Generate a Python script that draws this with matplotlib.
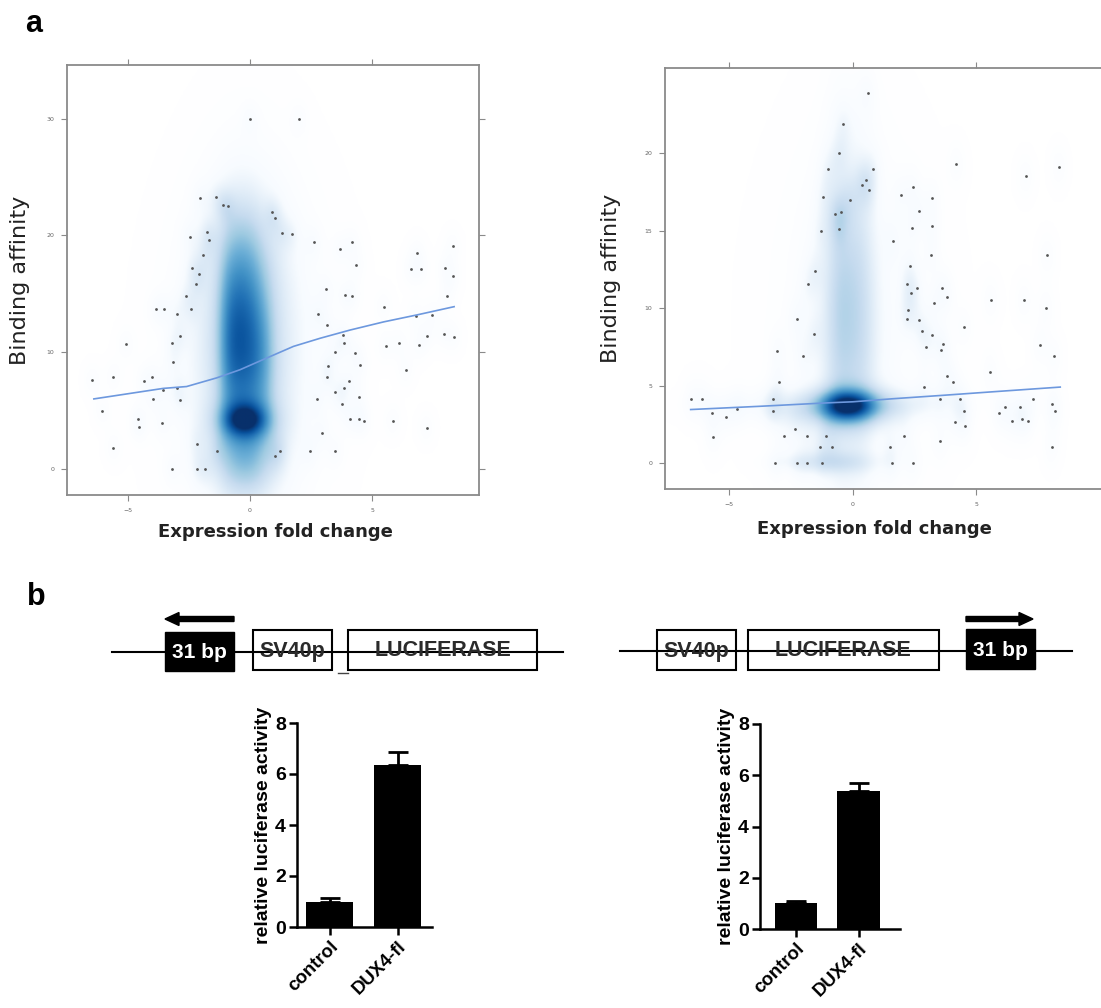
import numpy as np
import matplotlib.pyplot as plt
from matplotlib.colors import LinearSegmentedColormap
from matplotlib.patches import Rectangle, FancyArrow

# ---------------- panel a, left scatter (low density points of smoothScatter)
left_pts_x = [0.0, 2.0, -2.05, -1.4, -1.1, -0.9, 0.9, 1.03, -2.47, -1.75, -1.67, 1.3, 1.7,
              2.6, 4.18, 3.7, 8.3, -1.92, 6.85, -2.37, -2.08, 4.36, 6.6, 7.0, 8.0, 8.3,
              -2.2, -2.64, 3.12, 3.9, 4.18, 8.08, -3.86, -3.53, -3.0, -2.4, 2.8, 5.48,
              6.78, 7.47, 3.15, 3.8, 7.26, 7.95, -2.88, -5.1, -3.18, 5.55, 6.1, 6.92,
              8.36, 3.84, 4.3, 4.52, 3.5, 3.2, -3.15, 6.37, -6.47, -5.6, -4.36, -4.0,
              3.15, 4.04, -3.56, -3.0, 3.5, 3.84, -3.97, -2.88, 2.74, 3.77, 4.45, -6.05,
              -4.6, -4.55, -3.6, 4.08, 4.45, 4.66, 5.86, 7.23, 2.95, -5.6, -2.19, -1.34,
              1.23, 1.03, 2.44, 3.5, -3.2, -2.19, -1.85]
left_pts_y = [30.0, 30.0, 23.2, 23.3, 22.6, 22.5, 22.0, 21.5, 19.9, 20.3, 19.6, 20.2, 20.1,
              19.4, 19.4, 18.8, 19.1, 18.3, 18.5, 17.2, 16.7, 17.5, 17.1, 17.1, 17.2, 16.5,
              15.8, 14.8, 15.4, 14.9, 14.8, 14.8, 13.7, 13.7, 13.3, 13.7, 13.3, 13.9,
              13.1, 13.2, 12.3, 11.5, 11.4, 11.6, 11.4, 10.7, 10.8, 10.5, 10.8, 10.6,
              11.3, 10.8, 9.9, 8.9, 10.0, 8.8, 9.2, 8.5, 7.6, 7.9, 7.5, 7.9,
              7.9, 7.5, 6.8, 6.9, 6.6, 6.9, 6.0, 5.9, 6.0, 5.6, 6.2, 5.0,
              4.3, 3.6, 3.9, 4.3, 4.3, 4.1, 4.1, 3.5, 3.1, 1.8, 2.1, 1.5,
              1.5, 1.1, 1.5, 1.5, 0.0, 0.0, 0.0]
left_fit_x = [-6.4, -3.56, -2.6, -1.37, -0.41, 0.68, 1.78, 2.88, 4.1, 5.48, 6.85, 8.36]
left_fit_y = [6.0, 6.9, 7.06, 7.8, 8.5, 9.5, 10.5, 11.2, 11.9, 12.6, 13.2, 13.9]
# density blobs: centre x, centre y, spread x, spread y, weight
left_blob_x = [-0.9, -0.4, 0.1, 0.6, -0.2, -0.2, -0.2, 0.0, -0.2, -0.2]
left_blob_y = [11.0, 11.0, 10.5, 9.5, 4.2, 4.0, 10.5, 10.0, 0.5, 19.0]
left_blob_sx = [0.33, 0.33, 0.33, 0.33, 0.6, 1.0, 1.3, 2.0, 0.9, 0.9]
left_blob_sy = [6.0, 6.0, 6.0, 5.0, 0.9, 1.4, 8.5, 9.0, 2.0, 3.5]
left_blob_w = [0.3, 0.3, 0.26, 0.18, 0.38, 0.2, 0.32, 0.12, 0.2, 0.1]

# ---------------- panel a, right scatter
right_pts_x = [0.6, -0.38, -0.54, -1.01, 0.84, 4.2, 8.35, 7.0, 0.54, 0.36, 0.66, 2.42, 1.94,
               -1.19, -0.11, 3.22, -0.7, -0.47, 2.69, -1.3, -0.57, 2.39, 3.22, 1.62, 3.16,
               7.88, -1.52, 2.32, -1.8, 2.2, 2.6, 3.63, 2.36, 3.83, 3.29, 5.59, 6.94, 7.83,
               2.25, -2.27, 2.2, 2.69, 4.5, -1.57, 2.79, 3.2, 3.67, 2.96, 3.58, 7.58, -3.05,
               -2.0, 8.15, 5.56, 3.8, -3.0, 4.04, 2.89, -6.56, -6.11, -3.24, 3.54, 4.35, 7.31,
               -4.67, -3.24, 4.52, 6.17, 6.77, 8.08, 8.2, -5.7, -5.14, 5.94, 6.46, 6.84, 7.09,
               4.12, 4.55, -2.32, -5.67, -2.78, -1.84, -1.09, 2.08, 3.54, -1.32, -0.82, 1.51,
               8.06, -3.14, -2.27, -1.86, -1.26, 1.58, 2.43]
right_pts_y = [23.9, 21.9, 20.0, 19.0, 19.0, 19.3, 19.1, 18.5, 18.3, 17.95, 17.6, 17.8, 17.3,
               17.2, 17.0, 17.1, 16.1, 16.2, 16.3, 15.0, 15.1, 15.15, 15.3, 14.35, 13.4,
               13.4, 12.4, 12.7, 11.55, 11.55, 11.3, 11.3, 11.0, 10.7, 10.3, 10.5, 10.5, 10.0,
               9.9, 9.3, 9.3, 9.2, 8.8, 8.3, 8.5, 8.25, 7.7, 7.5, 7.3, 7.6, 7.2,
               6.9, 6.9, 5.9, 5.6, 5.2, 5.2, 4.9, 4.1, 4.1, 4.1, 4.15, 4.15, 4.1,
               3.5, 3.35, 3.35, 3.6, 3.6, 3.8, 3.35, 3.2, 3.0, 3.2, 2.7, 2.85, 2.7,
               2.65, 2.4, 2.2, 1.7, 1.75, 1.75, 1.75, 1.75, 1.4, 1.0, 1.0, 1.0,
               1.0, 0.0, 0.0, 0.0, 0.0, 0.0, 0.0]
right_fit_x = [-6.56, -3.75, -1.05, 0.0, 1.65, 3.67, 5.7, 8.4]
right_fit_y = [3.45, 3.66, 3.88, 3.95, 4.15, 4.37, 4.6, 4.9]
right_blob_x = [-0.2, -0.2, -0.55, 0.3, -0.1, 0.0, -1.5, 2.0, -0.7, -2.5]
right_blob_y = [3.7, 3.6, 10.0, 10.0, 9.0, 9.0, 3.6, 3.8, 0.0, 0.0]
right_blob_sx = [0.75, 1.3, 0.45, 0.45, 1.2, 2.2, 2.5, 1.5, 1.2, 0.8]
right_blob_sy = [0.65, 0.9, 7.5, 7.5, 7.0, 8.0, 0.8, 0.7, 0.5, 0.4]
right_blob_w = [0.5, 0.25, 0.2, 0.16, 0.12, 0.05, 0.15, 0.08, 0.15, 0.05]

# ---------------- panel b, luciferase assays
bar_labels = ['control', 'DUX4-fl']
left_bar_mean = [1.0, 6.35]
left_bar_err = [0.15, 0.5]
right_bar_mean = [1.0, 5.4]
right_bar_err = [0.1, 0.3]

ramp = LinearSegmentedColormap.from_list(
    'smooth', ['#FFFFFF', '#F7FBFF', '#DEEBF7', '#C6DBEF', '#9ECAE1', '#6BAED6',
               '#4292C6', '#2171B5', '#08519C', '#08306B'])


def smooth_scatter(ax, bx, by, bsx, bsy, bw, px, py, fx, fy, xlim, ylim):
    gx = np.linspace(xlim[0], xlim[1], 500)
    gy = np.linspace(ylim[0], ylim[1], 500)
    X, Y = np.meshgrid(gx, gy)
    Z = np.zeros_like(X)
    for x0, y0, sx, sy, w in zip(bx, by, bsx, bsy, bw):
        Z += w * np.exp(-0.5 * (((X - x0) / sx) ** 2 + ((Y - y0) / sy) ** 2))
    # faint halo around every isolated point
    for x0, y0 in zip(px, py):
        Z += 0.05 * np.exp(-0.5 * (((X - x0) / 0.25) ** 2 + ((Y - y0) / 1.0) ** 2))
    ax.imshow(Z, extent=(xlim[0], xlim[1], ylim[0], ylim[1]), origin='lower',
              cmap=ramp, vmin=0, vmax=1.05, aspect='auto', interpolation='bilinear', zorder=0)
    ax.scatter(px, py, s=4, color='#555555', linewidths=0, zorder=2)
    ax.plot(fx, fy, color='#6d98de', lw=1.2, zorder=3)
    ax.set_xlim(xlim)
    ax.set_ylim(ylim)
    for s in ax.spines.values():
        s.set_color('#8a8a8a')
        s.set_linewidth(1.3)
    ax.tick_params(direction='out', length=4, width=0.8, color='#8a8a8a',
                   labelsize=4.5, labelcolor='#666666', top=True, right=True, pad=5)
    ax.set_ylabel('Binding affinity', fontsize=16, color='#222222')
    ax.set_xlabel('Expression fold change', fontsize=13, fontweight='bold', color='#222222')


fig = plt.figure(figsize=(11.01, 10.08), dpi=100)

# overlay in pixel units for the construct diagrams
dg = fig.add_axes([0, 0, 1, 1])
dg.set_xlim(0, 1101)
dg.set_ylim(1008, 0)
dg.axis('off')
box_font = dict(fontsize=15.5, fontweight='bold', family='Liberation Sans', color='#2a2a2a',
                ha='center', va='center')
tag_font = dict(fontsize=15, fontweight='bold', family='Liberation Sans', color='white',
                ha='center', va='center')

# left construct
dg.plot([112, 563], [652, 652], color='black', lw=1.5)
dg.add_patch(Rectangle((165, 632), 69, 39, facecolor='black', edgecolor='black'))
dg.text(199.5, 652, '31 bp', **tag_font)
dg.add_patch(FancyArrow(234, 619, -69, 0, width=5, head_width=13, head_length=14,
                        length_includes_head=True, color='black'))
dg.add_patch(Rectangle((253, 630), 79, 40, facecolor='white', edgecolor='black', lw=1.5))
dg.text(292.5, 651, 'SV40p', **box_font)
dg.add_patch(Rectangle((348, 630), 189, 40, facecolor='white', edgecolor='black', lw=1.5))
dg.text(442.5, 651, 'LUCIFERASE', **box_font)
dg.plot([338, 348], [673, 673], color='#444444', lw=1)

# right construct
dg.plot([620, 1072], [651, 651], color='black', lw=1.5)
dg.add_patch(Rectangle((657, 630), 79, 40, facecolor='white', edgecolor='black', lw=1.5))
dg.text(696.5, 651, 'SV40p', **box_font)
dg.add_patch(Rectangle((748, 630), 191, 40, facecolor='white', edgecolor='black', lw=1.5))
dg.text(843.5, 651, 'LUCIFERASE', **box_font)
dg.add_patch(Rectangle((966, 629), 69, 40, facecolor='black', edgecolor='black'))
dg.text(1000.5, 650, '31 bp', **tag_font)
dg.add_patch(FancyArrow(966, 619, 67, 0, width=5, head_width=13, head_length=14,
                        length_includes_head=True, color='black'))

# scatter panels
ax1 = fig.add_axes([67 / 1101, 1 - 495 / 1008, 412 / 1101, 430 / 1008])
smooth_scatter(ax1, left_blob_x, left_blob_y, left_blob_sx, left_blob_sy, left_blob_w,
               left_pts_x, left_pts_y, left_fit_x, left_fit_y, (-7.5, 9.38), (-2.23, 34.6))
ax1.set_xticks([-5, 0, 5])
ax1.set_yticks([0, 10, 20, 30])
ax1.yaxis.set_label_coords(-0.09, 0.5)
ax1.xaxis.set_label_coords(0.507, -0.065)

ax2 = fig.add_axes([665 / 1101, 1 - 489 / 1008, 436 / 1101, 421 / 1008])
smooth_scatter(ax2, right_blob_x, right_blob_y, right_blob_sx, right_blob_sy, right_blob_w,
               right_pts_x, right_pts_y, right_fit_x, right_fit_y, (-7.6, 10.05), (-1.68, 25.5))
ax2.set_xticks([-5, 0, 5])
ax2.set_yticks([0, 5, 10, 15, 20])
ax2.spines['right'].set_visible(False)
ax2.tick_params(right=False)
ax2.yaxis.set_label_coords(-0.1, 0.5)
ax2.xaxis.set_label_coords(0.48, -0.074)


def bar_panel(rect, means, errs, xlim):
    ax = fig.add_axes(rect)
    pos = np.arange(len(means))
    ax.bar(pos, means, width=0.68, color='black', zorder=2)
    ax.errorbar(pos, means, yerr=[np.zeros(len(errs)), errs], fmt='none', ecolor='black',
                elinewidth=2, capsize=7, capthick=2, zorder=1)
    ax.set_xlim(xlim)
    ax.set_ylim(0, 8)
    ax.set_yticks([0, 2, 4, 6, 8])
    ax.set_xticks(pos)
    ax.set_xticklabels(bar_labels, rotation=45, ha='right', rotation_mode='anchor',
                       fontsize=13.5, fontweight='bold', family='Liberation Sans')
    for lab in ax.get_yticklabels():
        lab.set_fontweight('bold')
        lab.set_family('Liberation Sans')
        lab.set_fontsize(14)
    for s in ['top', 'right']:
        ax.spines[s].set_visible(False)
    for s in ['left', 'bottom']:
        ax.spines[s].set_linewidth(1.8)
    ax.tick_params(direction='out', length=6, width=1.8, pad=2)
    ax.set_ylabel('relative luciferase activity', fontsize=14, fontweight='bold',
                  family='Liberation Sans', labelpad=2)
    return ax


bar_panel([297 / 1101, 1 - 927 / 1008, 135 / 1101, 204 / 1008],
          left_bar_mean, left_bar_err, (-0.478, 1.507))
bar_panel([760 / 1101, 1 - 929 / 1008, 140 / 1101, 205 / 1008],
          right_bar_mean, right_bar_err, (-0.576, 1.664))

fig.text(34 / 1101, 1 - 32 / 1008, 'a', fontsize=22, fontweight='bold',
         family='Liberation Sans', ha='center', va='baseline')
fig.text(36 / 1101, 1 - 605 / 1008, 'b', fontsize=22, fontweight='bold',
         family='Liberation Sans', ha='center', va='baseline')

fig.savefig('out.png', dpi=100, facecolor='white')
